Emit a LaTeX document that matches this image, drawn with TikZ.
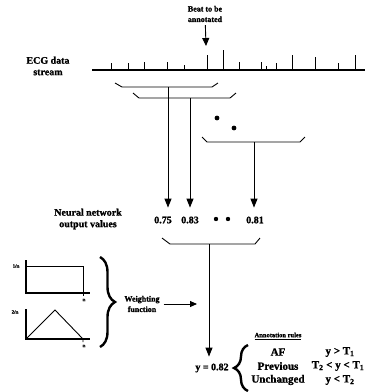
\documentclass[tikz,border=0pt]{standalone}
\usepackage{fontspec}
\setmainfont{Liberation Serif}[BoldFeatures={FakeBold=1.2}]
\usetikzlibrary{arrows.meta,decorations.pathreplacing}

\begin{document}
\begin{tikzpicture}[
    x=1pt, y=-1pt,
    lbl/.style={font=\fontsize{10}{11.5}\selectfont\bfseries, align=center, inner sep=0pt},
    small/.style={font=\fontsize{8}{10.5}\selectfont\bfseries, align=center, inner sep=0pt},
    axlbl/.style={font=\fontsize{5}{6}\selectfont\bfseries, inner sep=0pt},
    val/.style={lbl, outer ysep=9pt},
    rule/.style={font=\fontsize{11}{13}\selectfont\bfseries, inner sep=0pt},
    arrow/.style={-{Triangle[length=9pt,width=7pt]}, line width=0.9pt},
    bracket/.style={line width=0.9pt},
    bigbrace/.style={decorate, decoration={brace, amplitude=#1}, line width=2.4pt},
]
\useasboundingbox (0,0) rectangle (365,392);

% ===== ECG STREAM =====
\node[lbl] (ecg) at (48,66) {ECG data\\stream};
\draw[line width=1.3pt] (92,70) -- (365,70);
\foreach \x/\h in {111/7, 128/7, 144/8, 167/8, 184/5, 207/15, 223/20, 239/8,
    261/8, 266/4, 276/7, 292/15, 315/13, 338/7, 355/15}
    \draw[line width=0.8pt] (\x,70) -- ++(0,-\h);

\node[small, outer ysep=3pt] (beatlbl) at (205,14) {Beat to be\\annotated};
\coordinate (beat) at (206,46);
\draw[arrow, -{Triangle[length=8pt,width=7pt]}] (beatlbl) -- (beat);

% ===== WINDOWS =====
\draw[bracket] (115,83) -- (122,87) -- (212,87) -- (218,83);
\coordinate (b1) at (168,87);
\draw[bracket] (133,93) -- (139,98) -- (230,98) -- (236,93);
\coordinate (b2) at (190,98);
\fill (217,118) circle (2.4pt) (234,128) circle (2.4pt);
\draw[bracket] (202,137) -- (207,142) -- (300,142) -- (305,137);
\coordinate (b3) at (254,142);

% ===== NETWORK OUTPUTS =====
\node[lbl] (nnlbl) at (88,219) {Neural network\\output values};
\node[val] (v75) at (163,220) {0.75};
\node[val] (v83) at (190,220) {0.83};
\node[val] (v81) at (255,220) {0.81};
\fill (216,219) circle (2.2pt) (228,219) circle (2.2pt);

\draw[arrow] (b1) -- (b1 |- v75.north);
\draw[arrow] (b2) -- (b2 |- v83.north);
\draw[arrow] (b3) -- (b3 |- v81.north);

\draw[bracket] (162,238) -- (170,244) -- (255,244) -- (260,238);
\coordinate (b4) at (209,244);

% ===== WEIGHTING FUNCTIONS =====
\draw[line width=1.2pt] (26,260) -- (26,293) -- (90,293);
\draw[line width=0.9pt] (26,266) -- (83,266) -- (83,296);
\node[axlbl] (w1) at (16,266) {1/n};
\node[axlbl] (n1) at (84,300) {n};

\draw[line width=1.2pt] (26,309) -- (26,339) -- (90,339);
\draw[line width=0.9pt] (26,339) -- (55,310) -- (83,339) -- (83,342);
\node[axlbl] (w2) at (15,312) {2/n};
\node[axlbl] (n2) at (84,346) {n};

\draw[bigbrace=15pt] (100,257) -- (100,347);
\node[small, outer xsep=4pt] (wf) at (142,304) {Weighting\\function};
\coordinate (wfend) at (197,304);
\draw[arrow, -{Triangle[length=7pt,width=6pt]}] (wf) -- (wfend);

% ===== RESULT =====
\node[lbl, outer ysep=7pt] (res) at (212,368) {y = 0.82};
\draw[arrow] (b4) -- (b4 |- res.north);

\draw[bigbrace=14pt] (248,391) -- (248,345);
\node[font=\fontsize{6.5}{7}\selectfont\bfseries, inner sep=0pt] (rules) at (278,336) {\underline{Annotation rules}};
\node[rule] (af)  at (278,352) {AF};
\node[rule] (prv) at (278,366) {Previous};
\node[rule] (unc) at (278,380) {Unchanged};
\node[rule] (c1)  at (340,352) {y > T\textsubscript{1}};
\node[rule] (c2)  at (338,366) {T\textsubscript{2} < y < T\textsubscript{1}};
\node[rule] (c3)  at (340,380) {y < T\textsubscript{2}};

\end{tikzpicture}
\end{document}
